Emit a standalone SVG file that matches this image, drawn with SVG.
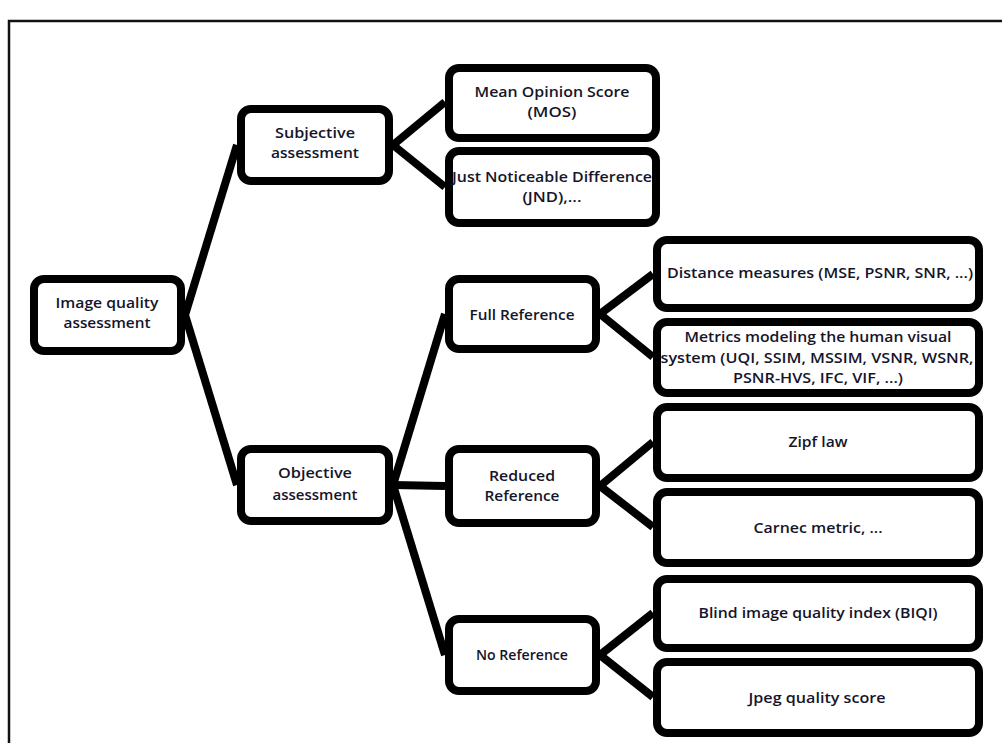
<svg xmlns="http://www.w3.org/2000/svg" width="1002" height="743" viewBox="0 0 1002 743">
<style>
.box{fill:#fff;stroke:#000;stroke-width:8}
.c{stroke:#000;stroke-width:8;fill:none;stroke-linecap:butt}
text{font-family:"Open Sans","Noto Sans","Liberation Sans",sans-serif;font-weight:600;font-size:15px;fill:#15152a;text-anchor:middle}
</style>
<rect x="0" y="0" width="1002" height="743" fill="#fff"/>
<path d="M9,745 V21 H1004" fill="none" stroke="#111" stroke-width="2.5"/>
<g id="connectors">
<line class="c" x1="185" y1="315" x2="237" y2="145"/>
<line class="c" x1="185" y1="315" x2="237" y2="485"/>
<line class="c" x1="393" y1="145" x2="445" y2="102"/>
<line class="c" x1="393" y1="145" x2="445" y2="187"/>
<line class="c" x1="393" y1="485" x2="445" y2="314"/>
<line class="c" x1="393" y1="485" x2="445" y2="486"/>
<line class="c" x1="393" y1="485" x2="445" y2="655"/>
<line class="c" x1="600" y1="314" x2="653" y2="274"/>
<line class="c" x1="600" y1="314" x2="653" y2="357"/>
<line class="c" x1="600" y1="486" x2="653" y2="442"/>
<line class="c" x1="600" y1="486" x2="653" y2="527"/>
<line class="c" x1="600" y1="655" x2="653" y2="613"/>
<line class="c" x1="600" y1="655" x2="653" y2="697"/>
</g>
<g id="iqa"><rect class="box" x="34" y="279" width="147" height="72" rx="10"/>
<text x="107" y="308" textLength="103" lengthAdjust="spacingAndGlyphs">Image quality</text>
<text x="107" y="328" textLength="87" lengthAdjust="spacingAndGlyphs">assessment</text></g>
<g id="subjective"><rect class="box" x="241" y="109" width="148" height="72" rx="10"/>
<text x="315" y="138" textLength="80" lengthAdjust="spacingAndGlyphs">Subjective</text>
<text x="315" y="158" textLength="88" lengthAdjust="spacingAndGlyphs">assessment</text></g>
<g id="objective"><rect class="box" x="241" y="449" width="148" height="72" rx="10"/>
<text x="315" y="478" textLength="74" lengthAdjust="spacingAndGlyphs">Objective</text>
<text x="315" y="500" textLength="85" lengthAdjust="spacingAndGlyphs">assessment</text></g>
<g id="mos"><rect class="box" x="449" y="68" width="207" height="70" rx="10"/>
<text x="552" y="97" textLength="155" lengthAdjust="spacingAndGlyphs">Mean Opinion Score</text>
<text x="552" y="117" textLength="49" lengthAdjust="spacingAndGlyphs">(MOS)</text></g>
<g id="jnd"><rect class="box" x="449" y="151" width="207" height="72" rx="10"/>
<text x="552" y="182" textLength="200" lengthAdjust="spacingAndGlyphs">Just Noticeable Difference</text>
<text x="552" y="202" textLength="59" lengthAdjust="spacingAndGlyphs">(JND),...</text></g>
<g id="full"><rect class="box" x="449" y="279" width="147" height="70" rx="10"/>
<text x="522" y="320" textLength="105" lengthAdjust="spacingAndGlyphs">Full Reference</text></g>
<g id="distance"><rect class="box" x="657" y="240" width="322" height="68" rx="10"/>
<text x="820" y="278" textLength="306" lengthAdjust="spacingAndGlyphs">Distance measures (MSE, PSNR, SNR, ...)</text></g>
<g id="metrics"><rect class="box" x="657" y="322" width="322" height="71" rx="10"/>
<text x="818" y="342" textLength="267" lengthAdjust="spacingAndGlyphs">Metrics modeling the human visual</text>
<text x="817" y="363" textLength="313" lengthAdjust="spacingAndGlyphs">system (UQI, SSIM, MSSIM, VSNR, WSNR,</text>
<text x="818" y="383" textLength="170" lengthAdjust="spacingAndGlyphs">PSNR-HVS, IFC, VIF, ...)</text></g>
<g id="reduced"><rect class="box" x="449" y="449" width="147" height="74" rx="10"/>
<text x="522" y="481" textLength="66" lengthAdjust="spacingAndGlyphs">Reduced</text>
<text x="522" y="501" textLength="75" lengthAdjust="spacingAndGlyphs">Reference</text></g>
<g id="zipf"><rect class="box" x="657" y="407" width="322" height="71" rx="10"/>
<text x="818" y="447" textLength="59" lengthAdjust="spacingAndGlyphs">Zipf law</text></g>
<g id="carnec"><rect class="box" x="657" y="492" width="322" height="71" rx="10"/>
<text x="818" y="533" textLength="129" lengthAdjust="spacingAndGlyphs">Carnec metric, ...</text></g>
<g id="noref"><rect class="box" x="449" y="619" width="147" height="72" rx="10"/>
<text x="522" y="660" textLength="92" lengthAdjust="spacingAndGlyphs">No Reference</text></g>
<g id="biqi"><rect class="box" x="657" y="579" width="322" height="69" rx="10"/>
<text x="818" y="618" textLength="239" lengthAdjust="spacingAndGlyphs">Blind image quality index (BIQI)</text></g>
<g id="jpeg"><rect class="box" x="657" y="662" width="322" height="71" rx="10"/>
<text x="817" y="703" textLength="137" lengthAdjust="spacingAndGlyphs">Jpeg quality score</text></g>
</svg>
